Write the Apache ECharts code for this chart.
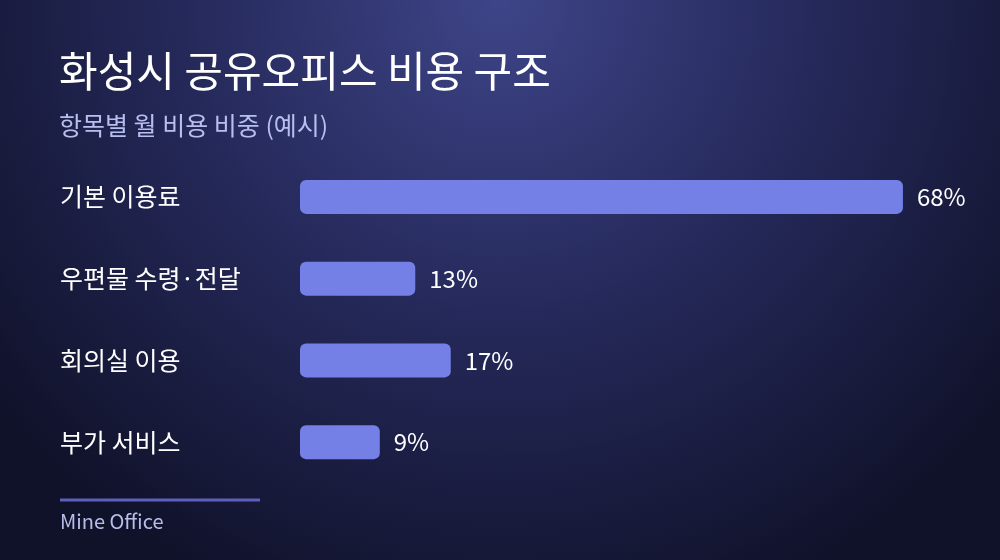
<!DOCTYPE html>
<html><head><meta charset="utf-8">
<script src="https://cdn.jsdelivr.net/npm/echarts@6/dist/echarts.min.js"></script>
<style>html,body{margin:0;padding:0;background:#10122a}#c{width:1000px;height:560px}</style>
</head><body><div id="c"></div>
<script>
const categories = ['기본 이용료', '우편물 수령·전달', '회의실 이용', '부가 서비스'];
const values = [68, 13, 17, 9];
const titleText = '화성시 공유오피스 비용 구조';
const subtitleText = '항목별 월 비용 비중 (예시)';
const footerText = 'Mine Office';

const font = '"Noto Sans CJK KR", "Noto Sans", sans-serif';
const chart = echarts.init(document.getElementById('c'));
chart.setOption({
  backgroundColor: {
    type: 'radial', x: 0.5, y: 0, r: 1.15,
    colorStops: [
      {offset: 0, color: '#3e4588'},
      {offset: 0.45, color: '#272b5e'},
      {offset: 1, color: '#10122a'}
    ]
  },
  title: [
    {text: titleText, left: 59, top: 50, padding: 0,
      textStyle: {color: '#ffffff', fontSize: 42, lineHeight: 42, fontWeight: 'normal', fontFamily: font}},
    {text: subtitleText, left: 59, top: 113, padding: 0,
      textStyle: {color: '#b8beee', fontSize: 25, lineHeight: 25, fontWeight: 'normal', fontFamily: font}}
  ],
  grid: {left: 300, right: 35, top: 156, height: 327},
  xAxis: {type: 'value', min: 0, max: 75, show: false},
  yAxis: {
    type: 'category', data: categories, inverse: true,
    axisLine: {show: false}, axisTick: {show: false},
    axisLabel: {color: '#ffffff', fontSize: 25, fontFamily: font, align: 'left', margin: 240}
  },
  series: [{
    type: 'bar', data: values, barWidth: 34,
    itemStyle: {color: '#7480e6', borderRadius: 6},
    label: {show: true, position: 'right', distance: 14, formatter: '{c}%',
      color: '#ffffff', fontSize: 24, fontFamily: font}
  }],
  graphic: [
    {type: 'rect', shape: {x: 60, y: 498.5, width: 200, height: 3}, style: {fill: '#5b60bb'}},
    {type: 'text', left: 60, top: 511, style: {text: footerText, fill: '#b8bdea', font: '20px ' + font}}
  ]
});
</script></body></html>
